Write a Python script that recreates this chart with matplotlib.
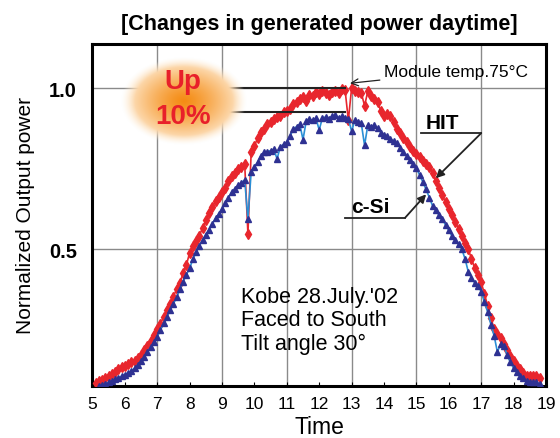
import matplotlib
matplotlib.use("Agg")
import matplotlib.pyplot as plt
import numpy as np

plt.rcParams['font.family'] = ['Liberation Sans', 'DejaVu Sans']

# HIT (red) readings, every 0.1 h from 5.1 to 18.8
hit_time = [round(5.1 + 0.1 * i, 1) for i in range(138)]
hit_power = [
    .085, .090, .094, .100, .105, .112, .118, .126, .133, .137,
    .142, .148, .152, .160, .172, .185, .200, .215, .232, .250,
    .268, .290, .310, .328, .352, .376, .395, .425, .450, .488,
    .510, .525, .542, .565, .590, .612, .630, .648, .662, .677,
    .690, .712, .727, .735, .748, .755, .765, .547, .800, .820,
    .845, .863, .872, .888, .895, .904, .910, .913, .925, .930,
    .935, .950, .958, .966, .972, .960, .980, .975, .988, .982,
    .990, .985, .978, .988, .992, .985, .997, .993, .900, 1.000,
    .990, .988, .985, .945, .990, .975, .965, .956, .930, .913,
    .920, .913, .895, .873, .862, .845, .832, .818, .805, .795,
    .785, .775, .765, .755, .735, .712, .690, .668, .645, .624,
    .605, .585, .562, .540, .520, .500, .470, .440, .420, .397,
    .360, .323, .285, .250, .235, .225, .205, .185, .168, .152,
    .138, .127, .115, .106, .105, .107, .106, .100,
]

# c-Si (blue) readings, every 0.1 h from 5.2 to 18.8
csi_time = [round(5.2 + 0.1 * i, 1) for i in range(137)]
csi_power = [
    .075, .078, .082, .086, .090, .096, .100, .105, .110, .115,
    .120, .130, .140, .152, .165, .180, .195, .210, .227, .248,
    .270, .290, .310, .330, .350, .375, .398, .420, .440, .468,
    .490, .510, .528, .545, .560, .578, .595, .610, .624, .642,
    .660, .677, .688, .698, .706, .715, .593, .740, .755, .770,
    .790, .800, .802, .806, .810, .780, .818, .825, .832, .850,
    .873, .880, .888, .840, .898, .904, .900, .906, .870, .908,
    .910, .905, .913, .915, .908, .912, .906, .904, .866, .900,
    .894, .890, .822, .885, .880, .884, .875, .862, .855, .850,
    .842, .835, .828, .815, .800, .790, .778, .765, .752, .730,
    .708, .685, .660, .634, .620, .605, .593, .575, .558, .540,
    .528, .515, .500, .470, .430, .410, .395, .385, .368, .335,
    .304, .265, .230, .180, .205, .200, .170, .148, .130, .118,
    .106, .098, .090, .088, .087, .087, .080,
]

x_ticks = list(range(5, 20))
x_grid = [7, 9, 11, 13, 15, 17]
y_ticks = [0.5, 1.0]

fig = plt.figure(figsize=(5.6, 4.39), dpi=100)
ax = fig.add_axes([0.165, 0.1185, 0.81, 0.779])

ax.plot(hit_time, hit_power, color='#e8262d', lw=1.2, marker='d', ms=5,
        mfc='#e8262d', mec='#e8262d', zorder=3)
ax.plot(csi_time, csi_power, color='#2a8fd6', lw=1.2, marker='^', ms=5,
        mfc='#2e3192', mec='#2e3192', zorder=4)

ax.set_xlim(5, 19)
ax.set_ylim(0.0745, 1.137)
ax.set_xticks(x_ticks)
ax.set_yticks(y_ticks)
ax.set_yticklabels(['0.5', '1.0'], fontsize=14.5, fontweight='bold')
ax.tick_params(axis='x', direction='in', length=3, labelsize=12.5, pad=7)
ax.tick_params(axis='y', length=0, pad=11)
for g in x_grid:
    ax.axvline(g, color='#8a8a8a', lw=1, zorder=1)
for g in y_ticks:
    ax.axhline(g, color='#8a8a8a', lw=1, zorder=1)
for s in ax.spines.values():
    s.set_linewidth(2.2)

ax.set_xlabel('Time', fontsize=16.5, labelpad=3)
ax.set_ylabel('Normalized Output power', fontsize=15, labelpad=10)
ax.set_title('[Changes in generated power daytime]', fontsize=15.5,
             fontweight='bold', pad=11)

# lines from the "Up 10%" bubble
ax.plot([9.2, 12.8], [1.0, 1.0], color='#222222', lw=1.5, zorder=5)
ax.plot([9.2, 12.8], [0.925, 0.925], color='#222222', lw=1.5, zorder=5)

ax.annotate('Module temp.75°C', xy=(12.95, 1.015), xytext=(14.0, 1.05),
            fontsize=12.5, va='center', ha='left',
            arrowprops=dict(arrowstyle='->', color='#222222', lw=0.9,
                            shrinkA=1, shrinkB=0))

ax.text(15.3, 0.865, 'HIT', fontsize=15, fontweight='bold', ha='left', va='bottom')
ax.plot([15.15, 17.0], [0.86, 0.86], color='#222222', lw=1.3)
ax.annotate('', xy=(15.6, 0.72), xytext=(17.0, 0.86),
            arrowprops=dict(arrowstyle='-|>', color='#222222', lw=1.3,
                            mutation_scale=12, shrinkA=0, shrinkB=0))

ax.text(13.0, 0.602, 'c-Si', fontsize=15, fontweight='bold', ha='left', va='bottom')
ax.plot([12.8, 14.65], [0.597, 0.597], color='#222222', lw=1.3)
ax.annotate('', xy=(15.3, 0.67), xytext=(14.65, 0.597),
            arrowprops=dict(arrowstyle='-|>', color='#222222', lw=1.3,
                            mutation_scale=12, shrinkA=0, shrinkB=0))

ax.text(9.6, 0.28, "Kobe 28.July.'02\nFaced to South\nTilt angle 30°",
        fontsize=15.5, ha='left', va='center', linespacing=1.15)

# orange glow behind "Up 10%"
gx0, gy0, gw, gh = 114, 52, 140, 100
gax = fig.add_axes([gx0 / 560, 1 - (gy0 + gh) / 439, gw / 560, gh / 439], zorder=5)
gax.axis('off')
yy, xx = np.mgrid[-1:1:200j, -1:1:280j]
r = np.sqrt((xx / 0.9) ** 2 + (yy / 0.88) ** 2)
img = np.zeros((200, 280, 4))
orange = np.array([0.96, 0.55, 0.08])
white = np.array([1.0, 0.95, 0.88])
mix = np.clip(r, 0, 1)[..., None] ** 1.3
img[..., :3] = orange * (1 - mix) + white * mix
img[..., 3] = np.clip((1.0 - r) / 0.22, 0, 1)
gax.imshow(img, extent=[0, 1, 0, 1], aspect='auto')
gax.set_xlim(0, 1)
gax.set_ylim(0, 1)

fig.text(183 / 560, 1 - 82 / 439, 'Up', color='#e8202a', fontsize=20,
         fontweight='bold', ha='center', va='center', zorder=6)
fig.text(183 / 560, 1 - 117 / 439, '10%', color='#e8202a', fontsize=20,
         fontweight='bold', ha='center', va='center', zorder=6)

fig.savefig('out.png', dpi=100)
